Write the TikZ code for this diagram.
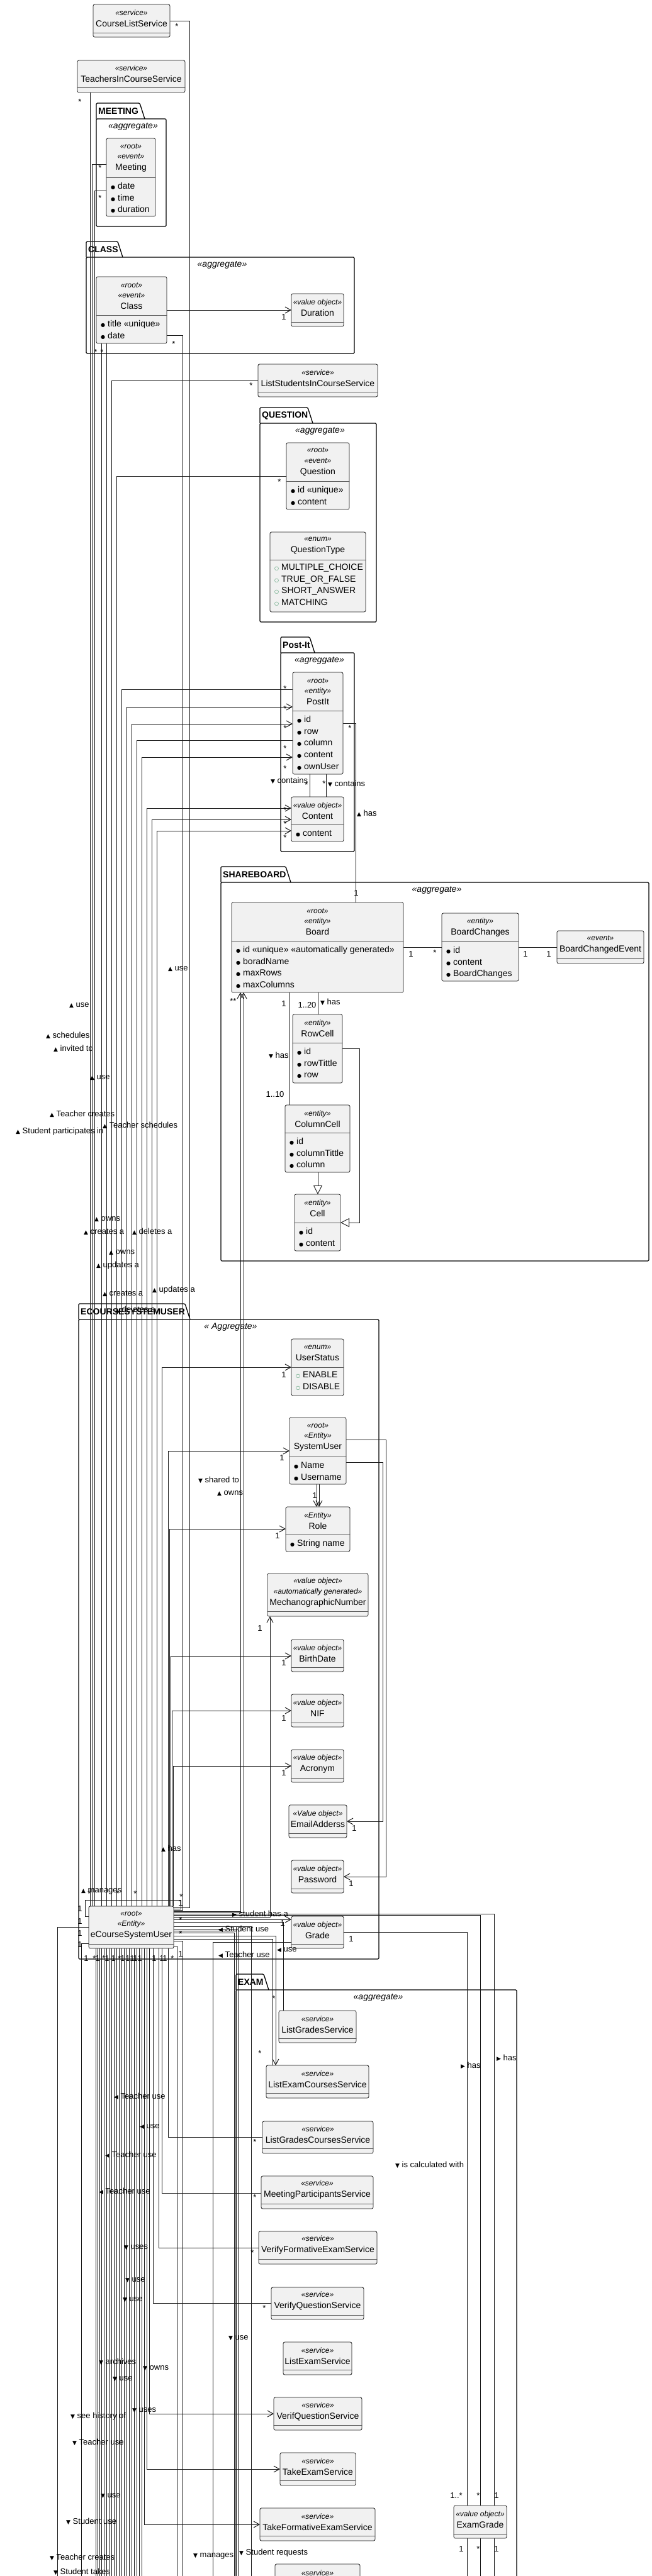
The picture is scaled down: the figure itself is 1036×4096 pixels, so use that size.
\documentclass[tikz,border=0pt]{standalone}
\usepackage{fontspec}
\setmainfont{Liberation Sans}
\newfontfamily\symfont{DejaVu Sans}
\usetikzlibrary{arrows.meta}

\definecolor{boxfill}{HTML}{F1F1F1}
\definecolor{boxline}{HTML}{181818}
\definecolor{enumgreen}{HTML}{2E8B57}

\pgfdeclarelayer{pkg}
\pgfdeclarelayer{wires}
\pgfsetlayers{pkg,wires,main}

%stereotypes, bullets and direction marks
\newcommand{\stereo}[1]{{\fontsize{12}{16}\selectfont\itshape «#1»}}
\newcommand{\bul}{{\symfont\fontsize{8}{8}\selectfont ●}\hspace{4pt}}
\newcommand{\enu}{{\color{enumgreen}\symfont\fontsize{8}{8}\selectfont ○}\hspace{4pt}}
\newcommand{\tup}{{\symfont\fontsize{9}{9}\selectfont ▲}}
\newcommand{\tdn}{{\symfont\fontsize{9}{9}\selectfont ▼}}
\newcommand{\trt}{{\symfont\fontsize{9}{9}\selectfont ▶}}
\newcommand{\tlt}{{\symfont\fontsize{9}{9}\selectfont ◀}}

%class box: name, x1, y1, x2, y2, separator, header
\newcommand{\umlclass}[7]{%
	\node[classbox, minimum width={#4-#2}, minimum height={#5-#3}] (#1) at ({(#2+#4)/2},{(#3+#5)/2}) {};
	\draw[sepline] (#2,#6) -- (#4,#6);
	\node[headtext] (#1-head) at ({(#2+#4)/2},{(#3+#6)/2}) {#7};
}
%attributes: name, x1, separator, items
\newcommand{\umlattrs}[4]{%
	\foreach \a [count=\i] in {#4}
		\node[attrtext] (#1-a\i) at ({#2+7},{#3+18.5+(\i-1)*18.7}) {\a};
}
%package: name, x1, tab right, body top, x2, y2, title, stereotype
\newcommand{\umlpkg}[8]{%
	\draw[pkgline] (#2,#4) -- (#2,{#4-25}) -- ({#3-8},{#4-25}) -- (#3,#4);
	\draw[pkgline] (#2,#4) rectangle (#5,#6);
	\node[pkgtitle] (#1) at ({#2+3},{#4-12}) {#7};
	\node[pkgstereo] (#1-st) at ({(#2+#5)/2+3},{#4+12}) {#8};
}

\begin{document}
\begin{tikzpicture}
	[x=1pt,y=-1pt,line cap=round,
	%Styles
	classbox/.style={draw=boxline,fill=boxfill,line width=0.8pt,rounded corners=2.5pt,inner sep=0pt,outer sep=0pt},
	sepline/.style={draw=boxline!75,line width=0.8pt},
	headtext/.style={align=center,inner sep=0pt,font=\fontsize{14}{16.5}\selectfont},
	attrtext/.style={anchor=base west,inner sep=0pt,font=\fontsize{14}{16}\selectfont},
	pkgline/.style={draw=black,line width=1.3pt,rounded corners=1.5pt},
	pkgtitle/.style={anchor=west,inner sep=0pt,font=\bfseries\fontsize{14}{16}\selectfont},
	pkgstereo/.style={inner sep=0pt,font=\fontsize{14}{16}\selectfont\itshape},
	assoc/.style={draw=boxline,line width=0.75pt},
	thin assoc/.style={draw=boxline,line width=0.55pt},
	noarr/.style={},
	arr/.style={-{Straight Barb[length=9pt,width=10pt,line width=1pt]}},
	gen/.style={-{Triangle[open,length=14pt,width=14pt,fill=white,line width=0.9pt]}},
	lbl/.style={anchor=west,inner sep=0pt,font=\fontsize{13}{15}\selectfont},
	mult/.style={inner sep=0pt,font=\fontsize{13}{15}\selectfont}
	]

	\useasboundingbox (0,0) rectangle (1036,4096);
	\clip (0,0) rectangle (1036,4096);
	\coordinate (cut) at (0,4112);

	%The packages
	\begin{pgfonlayer}{pkg}
		\umlpkg{meetingpkg}{153}{230}{189}{264}{360}{MEETING}{«aggregate»}
		\umlpkg{classpkg}{137}{195}{409}{563}{562}{CLASS}{«aggregate»}
		\umlpkg{questionpkg}{413}{497}{673}{598}{989}{QUESTION}{«aggregate»}
		\umlpkg{postitpkg}{446}{500}{1038}{563}{1354}{Post-It}{«agreggate»}
		\umlpkg{boardpkg}{351}{462}{1403}{1031}{2005}{SHAREBOARD}{«aggregate»}
		\umlpkg{userpkg}{125}{302}{2098}{602}{3115}{ECOURSESYSTEMUSER}{« Aggregate»}
		\umlpkg{exampkg}{375}{427}{3164}{821}{4200}{EXAM}{«aggregate»}
	\end{pgfonlayer}

	%The classes
	\umlclass{cls}{148}{7}{270}{59}{52}{\stereo{service}\\[1.5pt]CourseListService}
	\umlclass{tics}{123}{96}{294}{147}{139}{\stereo{service}\\[1.5pt]TeachersInCourseService}
	\umlclass{meeting}{169}{220}{247}{344}{282}{\stereo{root}\\\stereo{event}\\[1.5pt]Meeting}
	\umlattrs{meeting}{169}{282}{\bul date,\bul time,\bul duration}
	\umlclass{class}{153}{440}{265}{546}{501}{\stereo{root}\\\stereo{event}\\[1.5pt]Class}
	\umlattrs{class}{153}{501}{\bul title «unique»,\bul date}
	\umlclass{duration}{463}{467}{546}{519}{512}{\stereo{value object}\\[1.5pt]Duration}
	\umlclass{lsics}{410}{579}{600}{631}{623}{\stereo{service}\\[1.5pt]ListStudentsInCourseService}
	\umlclass{question}{455}{704}{555}{810}{765}{\stereo{root}\\\stereo{event}\\[1.5pt]Question}
	\umlattrs{question}{455}{765}{\bul id «unique»,\bul content}
	\umlclass{qtype}{429}{846}{581}{973}{890}{\stereo{enum}\\[1.5pt]QuestionType}
	\umlattrs{qtype}{429}{888}{\enu MULTIPLE\_CHOICE,\enu TRUE\_OR\_FALSE,\enu SHORT\_ANSWER,\enu MATCHING}
	\umlclass{postit}{465}{1069}{545}{1231}{1130}{\stereo{root}\\\stereo{entity}\\[1.5pt]PostIt}
	\umlattrs{postit}{465}{1130}{\bul id,\bul row,\bul column,\bul content,\bul ownUser}
	\umlclass{content}{463}{1267}{546}{1338}{1311}{\stereo{value object}\\[1.5pt]Content}
	\umlattrs{content}{463}{1311}{\bul content}
	\umlclass{board}{368}{1435}{641}{1578}{1496}{\stereo{root}\\\stereo{entity}\\[1.5pt]Board}
	\umlattrs{board}{368}{1496}{\bul id «unique» «automatically generated»,\bul boradName,\bul maxRows,\bul maxColumns}
	\umlclass{bchanges}{702}{1452}{824}{1560}{1497}{\stereo{entity}\\[1.5pt]BoardChanges}
	\umlattrs{bchanges}{702}{1497}{\bul id,\bul content,\bul BoardChanges}
	\umlclass{bcevent}{885}{1480}{1023}{1532}{1524}{\stereo{event}\\[1.5pt]BoardChangedEvent}
	\umlclass{rowcell}{465}{1613}{544}{1722}{1658}{\stereo{entity}\\[1.5pt]RowCell}
	\umlattrs{rowcell}{465}{1658}{\bul id,\bul rowTittle,\bul row}
	\umlclass{colcell}{453}{1757}{556}{1864}{1801}{\stereo{entity}\\[1.5pt]ColumnCell}
	\umlattrs{colcell}{453}{1801}{\bul id,\bul columnTittle,\bul column}
	\umlclass{cell}{468}{1899}{541}{1989}{1944}{\stereo{entity}\\[1.5pt]Cell}
	\umlattrs{cell}{468}{1944}{\bul id,\bul content}
	\umlclass{userstatus}{463}{2129}{546}{2219}{2174}{\stereo{enum}\\[1.5pt]UserStatus}
	\umlattrs{userstatus}{463}{2172}{\enu ENABLE,\enu DISABLE}
	\umlclass{sysuser}{460}{2254}{550}{2360}{2316}{\stereo{root}\\\stereo{Entity}\\[1.5pt]SystemUser}
	\umlattrs{sysuser}{460}{2316}{\bul Name,\bul Username}
	\umlclass{role}{454}{2396}{556}{2467}{2440}{\stereo{Entity}\\[1.5pt]Role}
	\umlattrs{role}{454}{2440}{\bul String name}
	\umlclass{mecnum}{425}{2502}{585}{2570}{2562}{\stereo{value object}\\\stereo{automatically generated}\\[1.5pt]MechanographicNumber}
	\umlclass{birth}{463}{2607}{546}{2658}{2651}{\stereo{value object}\\[1.5pt]BirthDate}
	\umlclass{nif}{463}{2694}{546}{2746}{2739}{\stereo{value object}\\[1.5pt]NIF}
	\umlclass{acronym}{463}{2782}{546}{2834}{2827}{\stereo{value object}\\[1.5pt]Acronym}
	\umlclass{email}{459}{2870}{551}{2922}{2915}{\stereo{Value object}\\[1.5pt]EmailAdderss}
	\umlclass{password}{463}{2958}{546}{3010}{3003}{\stereo{value object}\\[1.5pt]Password}
	\umlclass{ecsu}{141}{3031}{276}{3098}{3091}{\stereo{root}\\\stereo{Entity}\\[1.5pt]eCourseSystemUser}
	\umlclass{grade}{463}{3047}{546}{3098}{3091}{\stereo{value object}\\[1.5pt]Grade}
	\umlclass{lgs}{443}{3197}{566}{3248}{3241}{\stereo{service}\\[1.5pt]ListGradesService}
	\umlclass{lecs}{423}{3284}{586}{3336}{3328}{\stereo{service}\\[1.5pt]ListExamCoursesService}
	\umlclass{lgcs}{417}{3373}{593}{3424}{3416}{\stereo{service}\\[1.5pt]ListGradesCoursesService}
	\umlclass{mps}{415}{3460}{593}{3512}{3504}{\stereo{service}\\[1.5pt]MeetingParticipantsService}
	\umlclass{vfes}{411}{3548}{599}{3600}{3592}{\stereo{service}\\[1.5pt]VerifyFormativeExamService}
	\umlclass{vqs}{431}{3637}{578}{3688}{3681}{\stereo{service}\\[1.5pt]VerifyQuestionService}
	\umlclass{les}{450}{3724}{559}{3776}{3768}{\stereo{service}\\[1.5pt]ListExamService}
	\umlclass{verifq}{435}{3812}{575}{3864}{3856}{\stereo{service}\\[1.5pt]VerifQuestionService}
	\umlclass{tes}{445}{3900}{565}{3952}{3944}{\stereo{service}\\[1.5pt]TakeExamService}
	\umlclass{examgrade}{721}{3984}{805}{4036}{4029}{\stereo{value object}\\[1.5pt]ExamGrade}
	\umlclass{tfes}{413}{3988}{596}{4040}{4032}{\stereo{service}\\[1.5pt]TakeFormativeExamService}
	\umlclass{nextsvc}{437}{4077}{572}{4130}{4123}{\stereo{service}\\[1.5pt]\phantom{S}}

	%The connectors
	\begin{pgfonlayer}{wires}
		% eCourseSystemUser upwards
		\draw[assoc] (143,0 |- ecsu.north) -- (143,0 |- tics.south);
		\draw[assoc] (161,0 |- ecsu.north) -- (161,0 |- class.south);
		\draw[assoc] (169,0 |- ecsu.north) -- (169,0 |- class.south);
		\foreach \x/\t/\y/\tip in {146/meeting/261/noarr,150/meeting/303/noarr,177/lsics/605/noarr,185/question/757/noarr,
			193/postit/1096/noarr,201/postit/1124/arr,209/postit/1151/arr,217/postit/1177/noarr,225/postit/1204/arr,
			233/content/1285/arr,241/content/1303/arr,249/content/1321/arr,
			257/userstatus/2174/arr,267/sysuser/2307/arr,269/role/2431/arr,271/birth/2633/arr,273/nif/2720/arr,275/acronym/2808/arr}
			\draw[assoc,\tip] (\x,0 |- ecsu.north) |- (\t.west |- 0,\y);
		\draw[assoc] (ecsu.east |- 0,3033) -| (301,33) -- (cls.east |- 0,33);
		\draw[assoc] (ecsu.east |- 0,3037) -| (290,533) -- (class.east |- 0,533);
		\draw[assoc,arr] (ecsu.east |- 0,3039) -| (382,0 |- board.south);
		\draw[assoc,arr] (ecsu.east |- 0,3041) -| (387,0 |- board.south);
		\draw[assoc,arr] (ecsu.east |- 0,3048) -| (429,0 |- mecnum.south);
		\draw[assoc] (ecsu.west |- 0,3047) -| (135,3021) -| (287,3035) -- (ecsu.east |- 0,3035);
		% inside the packages
		\draw[assoc,arr] (class.east |- 0,493) -- (duration.west |- 0,493);
		\draw[assoc] (492,0 |- postit.south) -- (492,0 |- content.north);
		\draw[assoc] (518,0 |- postit.south) -- (518,0 |- content.north);
		\draw[assoc] (postit.east |- 0,1150) -| (565,0 |- board.north);
		\draw[assoc] (board.east |- 0,1506) -- (bchanges.west |- 0,1506);
		\draw[assoc] (bchanges.east |- 0,1506) -- (bcevent.west |- 0,1506);
		\draw[assoc] (460,0 |- board.south) -- (460,0 |- colcell.north);
		\draw[assoc] (505,0 |- board.south) -- (505,0 |- rowcell.north);
		\draw[assoc,gen] (505,0 |- colcell.south) -- (505,0 |- cell.north);
		\draw[assoc,gen] (rowcell.east |- 0,1667) -| (571,1944) -- (cell.east |- 0,1944);
		\draw[assoc,arr] (503,0 |- sysuser.south) -- (503,0 |- role.north);
		\draw[assoc,arr] (507,0 |- sysuser.south) -- (507,0 |- role.north);
		\draw[assoc,arr] (sysuser.east |- 0,2289) -| (613,2984) -- (password.east |- 0,2984);
		\draw[assoc,arr] (sysuser.east |- 0,2325) -| (608,2896) -- (email.east |- 0,2896);
		% grades and exams
		\draw[assoc,arr] (ecsu.east |- 0,3052) -- (grade.west |- 0,3052);
		\draw[assoc] (ecsu.east |- 0,3056) -| (450,0 |- lgs.north);
		\draw[assoc] (ecsu.east |- 0,3043) -| (785,0 |- examgrade.north);
		\draw[assoc] (ecsu.east |- 0,3045) -| (763,0 |- examgrade.north);
		\draw[assoc] (grade.east |- 0,3072) -| (742,0 |- examgrade.north);
		\draw[assoc] (grade.west |- 0,3088) -| (338,0 |- cut);
		\draw[assoc,arr] (ecsu.east |- 0,3078) -| (438,0 |- lecs.north);
		\draw[assoc] (ecsu.east |- 0,3083) -| (433,0 |- lecs.north);
		\foreach \y/\x in {3063/399,3067/378,3070/375,3073/372,3086/290,3094/281}
			\draw[assoc] (ecsu.east |- 0,\y) -| (\x,0 |- cut);
		\foreach \x in {742,763,785}
			\draw[assoc] (\x,0 |- examgrade.south) -- (\x,0 |- cut);
		% eCourseSystemUser downwards
		\draw[assoc] (ecsu.west |- 0,3064) -| (91,0 |- cut);
		\draw[assoc] (ecsu.west |- 0,3090) -| (129,0 |- cut);
		\foreach \x/\t/\y/\tip in {267/lgcs/3398/noarr,257/mps/3487/noarr,252/vfes/3574/noarr,243/vqs/3662/noarr,
			237/verifq/3838/arr,233/tes/3926/arr,229/tfes/4014/arr}
			\draw[assoc,\tip] (\x,0 |- ecsu.south) |- (\t.west |- 0,\y);
		\foreach \x in {152,155,158,161,165,169,173,177,181,185,189,193,197,201,205,209,213,217,221,225}
			\draw[thin assoc] (\x,0 |- ecsu.south) -- (\x,0 |- cut);
	\end{pgfonlayer}

	%Multiplicities
	\foreach \mx/\my/\m [count=\k] in {281/42/*,127/162/*,159/267/*,159/315/*,451/504/1,276/547/*,152/560/*,162/560/*,
		399/613/*,444/766/*,453/1095/*,453/1127/*,453/1158/*,453/1190/*,453/1222/*,556/1158/*,487/1248/*,515/1246/*,
		453/1288/*,453/1310/*,453/1332/*,566/1420/1,653/1517/1,691/1515/*,835/1517/1,872/1517/1,
		368/1592/*,373/1592/*,451/1596/1,488/1598/{1..20},437/1740/{1..10},
		451/2186/1,448/2318/1,500/2378/1,441/2442/1,413/2589/1,451/2644/1,451/2732/1,451/2819/1,563/2907/1,558/2995/1,
		142/3011/*,187/3011/*,215/3011/*,288/3016/*,287/3026/1,127/3035/1,127/3055/1,127/3074/1,127/3092/1,
		287/3053/*,287/3075/*,287/3107/1,449/3058/1,558/3083/1,
		137/3114/1,150/3114/*,155/3114/1,165/3114/*,170/3114/1,180/3114/1,190/3114/*,195/3114/1,203/3114/1,
		210/3114/1,215/3114/1,222/3114/1,245/3114/1,257/3114/1,262/3114/1,274/3114/*,
		435/3178/*,413/3265/*,405/3406/*,405/3494/*,401/3582/*,420/3670/*,
		725/3968/{1..*},760/3968/*,789/3968/1,733/4053/1,760/4053/*,789/4053/1}
		\node[mult] (mult\k) at (\mx,\my) {\m};

	%Association labels
	\foreach \lx/\ly/\lt [count=\k] in {267/1541/{\tup{} use},110/1599/{\tup{} use},73/1646/{\tup{} schedules},
		85/1667/{\tup{} invited to},143/1714/{\tup{} use},79/1771/{\tup{} Teacher creates},
		163/1789/{\tup{} Teacher schedules},25/1799/{\tup{} Student participates in},
		150/1939/{\tup{} owns},133/1959/{\tup{} creates a},210/1958/{\tup{} deletes a},173/1992/{\tup{} owns},
		153/2012/{\tup{} updates a},163/2057/{\tup{} creates a},242/2051/{\tup{} updates a},183/2082/{\tup{} deletes a},
		315/2353/{\tdn{} shared to},345/2375/{\tup{} owns},256/2939/{\tup{} has},129/3007/{\tup{} manages},
		369/3043/{\trt{} student has a},347/3067/{\tlt{} Student use},440/3101/{\tlt{} use},347/3108/{\tlt{} Teacher use},
		732/3284/{\trt{} has},789/3272/{\trt{} has},181/3333/{\tlt{} Teacher use},222/3382/{\tlt{} use},
		167/3426/{\tlt{} Teacher use},628/3442/{\tdn{} is calculated with},157/3484/{\tlt{} Teacher use},
		197/3574/{\tdn{} uses},199/3626/{\tdn{} use},195/3657/{\tdn{} use},363/3718/{\tdn{} use},
		157/3755/{\tdn{} archives},227/3766/{\tdn{} owns},179/3783/{\tdn{} use},210/3833/{\tdn{} uses},
		112/3842/{\tdn{} see history of},115/3883/{\tdn{} Teacher use},160/3969/{\tdn{} use},
		105/4009/{\tdn{} Student use},79/4066/{\tdn{} Teacher creates},85/4089/{\tdn{} Student takes},
		307/4064/{\tdn{} manages},380/4059/{\tdn{} Student requests},
		430/1241/{\tdn{} contains},521/1246/{\tdn{} contains},567/1293/{\tup{} has},
		509/1593/{\tdn{} has},427/1678/{\tdn{} has}}
		\node[lbl] (lab\k) at (\lx,\ly) {\lt};
\end{tikzpicture}
\end{document}
